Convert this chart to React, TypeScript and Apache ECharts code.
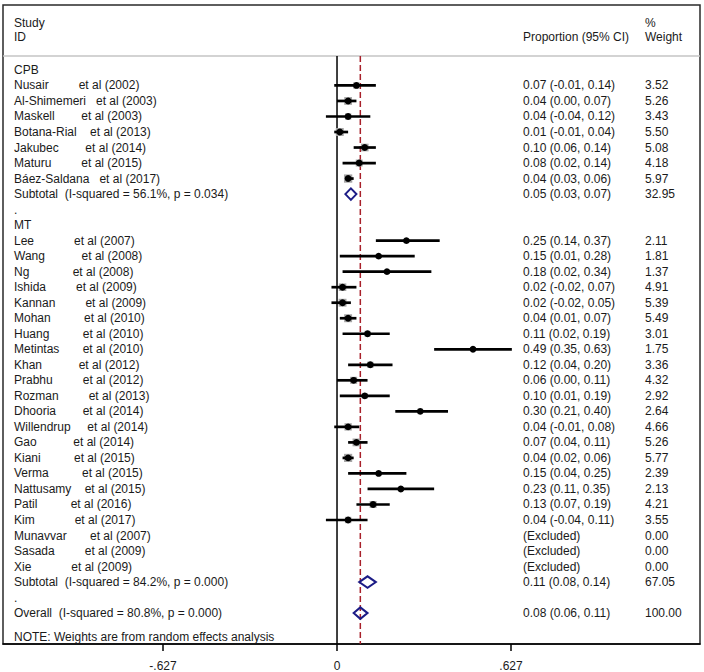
import React, { useEffect, useRef } from "react";
import * as echarts from "echarts";

// ---------------- data ----------------
const groupNames = ["CPB", "MT"];

const cpbStudies = ["Nusair", "Al-Shimemeri", "Maskell", "Botana-Rial", "Jakubec", "Maturu", "Báez-Saldana"];
const cpbGaps = [9, 3, 8, 4, 8, 9, 3];
const cpbYears = [2002, 2003, 2003, 2013, 2014, 2015, 2017];
const cpbEst = [0.07, 0.04, 0.04, 0.01, 0.10, 0.08, 0.04];
const cpbLower = [-0.01, 0.00, -0.04, -0.01, 0.06, 0.02, 0.03];
const cpbUpper = [0.14, 0.07, 0.12, 0.04, 0.14, 0.14, 0.06];
const cpbWeight = [3.52, 5.26, 3.43, 5.50, 5.08, 4.18, 5.97];

const mtStudies = ["Lee", "Wang", "Ng", "Ishida", "Kannan", "Mohan", "Huang", "Metintas", "Khan", "Prabhu", "Rozman", "Dhooria", "Willendrup", "Gao", "Kiani", "Verma", "Nattusamy", "Patil", "Kim", "Munavvar", "Sasada", "Xie"];
const mtGaps = [12, 11, 13, 9, 9, 10, 10, 7, 11, 9, 9, 8, 5, 11, 10, 10, 4, 10, 12, 7, 9, 12];
const mtYears = [2007, 2008, 2008, 2009, 2009, 2010, 2010, 2010, 2012, 2012, 2013, 2014, 2014, 2014, 2015, 2015, 2015, 2016, 2017, 2007, 2009, 2009];
const mtEst = [0.25, 0.15, 0.18, 0.02, 0.02, 0.04, 0.11, 0.49, 0.12, 0.06, 0.10, 0.30, 0.04, 0.07, 0.04, 0.15, 0.23, 0.13, 0.04, null, null, null];
const mtLower = [0.14, 0.01, 0.02, -0.02, -0.02, 0.01, 0.02, 0.35, 0.04, 0.00, 0.01, 0.21, -0.01, 0.04, 0.02, 0.04, 0.11, 0.07, -0.04, null, null, null];
const mtUpper = [0.37, 0.28, 0.34, 0.07, 0.05, 0.07, 0.19, 0.63, 0.20, 0.11, 0.19, 0.40, 0.08, 0.11, 0.06, 0.25, 0.35, 0.19, 0.11, null, null, null];
const mtWeight = [2.11, 1.81, 1.37, 4.91, 5.39, 5.49, 3.01, 1.75, 3.36, 4.32, 2.92, 2.64, 4.66, 5.26, 5.77, 2.39, 2.13, 4.21, 3.55, 0, 0, 0];

const pooledLabels = ["Subtotal", "Subtotal", "Overall"];
const pooledI2 = [56.1, 84.2, 80.8];
const pooledP = [0.034, 0.0, 0.0];
const pooledEst = [0.05, 0.11, 0.084];
const pooledLower = [0.03, 0.08, 0.06];
const pooledUpper = [0.07, 0.14, 0.11];
const pooledWeight = [32.95, 67.05, 100.0];

const headerStudy = ["Study", "ID"];
const headerCI = "Proportion (95% CI)";
const headerWeight = ["%", "Weight"];
const noteText = "NOTE: Weights are from random effects analysis";
const axisTicks = [-0.627, 0, 0.627];

// ---------------- layout constants ----------------
const XMIN = -1.2036;
const XMAX = 1.308;
const YMIN = -4.183;
const YMAX = 36.99;
const HEADER_ROWS = [-3.05, -2.1];
const SEP_ROW = -0.9;
const NOTE_ROW = 36.55;
const LEFT_X = 14;
const CI_X = 523;
const W_X = 645;
const FONT = '12px "Liberation Sans", Arial, sans-serif';
const TEXT_COLOR = "#1a1a1a";

const NB = "\u00a0";
const f2 = (v: number) => v.toFixed(2);
const ciText = (e: number, l: number, u: number) => `${f2(e)} (${f2(l)}, ${f2(u)})`;

type Row = { row: number; left?: string; ci?: string; weight?: string };

const groups = [
  { studies: cpbStudies, gaps: cpbGaps, years: cpbYears, est: cpbEst, lo: cpbLower, hi: cpbUpper, w: cpbWeight },
  { studies: mtStudies, gaps: mtGaps, years: mtYears, est: mtEst, lo: mtLower, hi: mtUpper, w: mtWeight },
];

const textRows: Row[] = [];
const studyMarks: number[][] = [];
const diamonds: number[][] = [];

textRows.push({ row: HEADER_ROWS[0], left: headerStudy[0], weight: headerWeight[0] });
textRows.push({ row: HEADER_ROWS[1], left: headerStudy[1], ci: headerCI, weight: headerWeight[1] });

const pooledText = (i: number) =>
  `${pooledLabels[i]}${NB}${NB}(I-squared = ${pooledI2[i].toFixed(1)}%, p = ${pooledP[i].toFixed(3)})`.replace(/ /g, NB);

let r = 0;
groups.forEach((g, gi) => {
  textRows.push({ row: r, left: groupNames[gi] });
  r++;
  g.studies.forEach((s, i) => {
    const left = s + NB.repeat(g.gaps[i]) + `et al (${g.years[i]})`.replace(/ /g, NB);
    const e = g.est[i];
    if (e == null) {
      textRows.push({ row: r, left, ci: "(Excluded)", weight: f2(g.w[i]) });
    } else {
      textRows.push({ row: r, left, ci: ciText(e, g.lo[i] as number, g.hi[i] as number), weight: f2(g.w[i]) });
      studyMarks.push([r, e, g.lo[i] as number, g.hi[i] as number, g.w[i]]);
    }
    r++;
  });
  textRows.push({ row: r, left: pooledText(gi), ci: ciText(pooledEst[gi], pooledLower[gi], pooledUpper[gi]), weight: f2(pooledWeight[gi]) });
  diamonds.push([r, pooledEst[gi], pooledLower[gi], pooledUpper[gi]]);
  r++;
  textRows.push({ row: r, left: "." });
  r++;
});
textRows.push({ row: r, left: pooledText(2), ci: ciText(pooledEst[2], pooledLower[2], pooledUpper[2]), weight: f2(pooledWeight[2]) });
diamonds.push([r, pooledEst[2], pooledLower[2], pooledUpper[2]]);
const LAST_ROW = YMAX;
textRows.push({ row: NOTE_ROW, left: noteText });

const textEl = (text: string, x: number, y: number) => ({
  type: "text",
  x,
  y,
  style: {
    text,
    fill: TEXT_COLOR,
    font: FONT,
    textAlign: "left",
    textVerticalAlign: "middle",
    align: "left",
    verticalAlign: "middle",
  },
});

export default function App() {
  const ref = useRef<HTMLDivElement>(null);
  useEffect(() => {
    if (!ref.current) return;
    const chart = echarts.init(ref.current, null, { renderer: "svg" });
    const option: any = {
      animation: false,
      backgroundColor: "#ffffff",
      grid: {
        show: true,
        left: 3,
        right: 4,
        top: 5,
        bottom: 27,
        borderColor: "#2a2a2a",
        borderWidth: 1.5,
        backgroundColor: "transparent",
      },
      xAxis: {
        type: "value",
        min: XMIN,
        max: XMAX,
        splitLine: { show: false },
        axisLine: { show: true, onZero: false, lineStyle: { color: "#000", width: 1.5 } },
        axisTick: { show: true, customValues: axisTicks, length: 7, inside: false, lineStyle: { color: "#000", width: 1.5 } },
        axisLabel: {
          customValues: axisTicks,
          formatter: (v: number) => (v === 0 ? "0" : String(v).replace("0.", ".")),
          margin: 16,
          fontSize: 12,
          color: TEXT_COLOR,
          fontFamily: '"Liberation Sans", Arial, sans-serif',
        },
      },
      yAxis: { type: "value", inverse: true, min: YMIN, max: YMAX, show: false },
      series: [
        {
          type: "line",
          silent: true,
          symbol: "none",
          data: [[XMIN, SEP_ROW], [XMAX, SEP_ROW]],
          lineStyle: { color: "#c4c4c4", width: 1.5 },
          z: 1,
        },
        {
          type: "line",
          silent: true,
          symbol: "none",
          data: [[0, SEP_ROW], [0, LAST_ROW]],
          lineStyle: { color: "#000", width: 1.5 },
          z: 2,
        },
        {
          type: "line",
          silent: true,
          symbol: "none",
          data: [[pooledEst[2], SEP_ROW], [pooledEst[2], LAST_ROW]],
          lineStyle: { color: "#a8202a", width: 1.5, type: [6, 3] },
          z: 2,
        },
        {
          type: "custom",
          silent: true,
          clip: false,
          z: 3,
          encode: { x: [1, 2, 3], y: 0 },
          data: studyMarks,
          renderItem: (params: any, api: any) => {
            const row = api.value(0);
            const e = api.value(1);
            const lo = api.value(2);
            const hi = api.value(3);
            const w = api.value(4);
            const pe = api.coord([e, row]);
            const pl = api.coord([lo, row]);
            const ph = api.coord([hi, row]);
            const s = 3.4 * Math.sqrt(w);
            return {
              type: "group",
              children: [
                { type: "rect", shape: { x: pe[0] - s / 2, y: pe[1] - s / 2, width: s, height: s }, style: { fill: "#a6a6a6" } },
                { type: "line", shape: { x1: pl[0], y1: pl[1], x2: ph[0], y2: ph[1] }, style: { stroke: "#000", lineWidth: 2.7 } },
                { type: "circle", shape: { cx: pe[0], cy: pe[1], r: 3.4 }, style: { fill: "#000" } },
              ],
            };
          },
        },
        {
          type: "custom",
          silent: true,
          clip: false,
          z: 4,
          encode: { x: [1, 2, 3], y: 0 },
          data: diamonds,
          renderItem: (params: any, api: any) => {
            const row = api.value(0);
            const e = api.value(1);
            const lo = api.value(2);
            const hi = api.value(3);
            const pl = api.coord([lo, row]);
            const ph = api.coord([hi, row]);
            const pt = api.coord([e, row - 0.37]);
            const pb = api.coord([e, row + 0.37]);
            return {
              type: "polygon",
              shape: { points: [pl, pt, ph, pb] },
              style: { fill: "none", stroke: "#1c1c86", lineWidth: 2 },
            };
          },
        },
        {
          type: "custom",
          silent: true,
          clip: false,
          z: 5,
          encode: { x: 0, y: 1 },
          data: textRows.map((t) => [0, t.row]),
          renderItem: (params: any, api: any) => {
            const t = textRows[params.dataIndex];
            const y = api.coord([0, t.row])[1];
            const children: any[] = [];
            if (t.left) children.push(textEl(t.left, LEFT_X, y));
            if (t.ci) children.push(textEl(t.ci, CI_X, y));
            if (t.weight) children.push(textEl(t.weight, W_X, y));
            return { type: "group", children };
          },
        },
      ],
    };
    chart.setOption(option);
    return () => chart.dispose();
  }, []);
  return <div ref={ref} style={{ position: "fixed", left: 0, top: 0, width: 704, height: 672, background: "#fff" }} />;
}
